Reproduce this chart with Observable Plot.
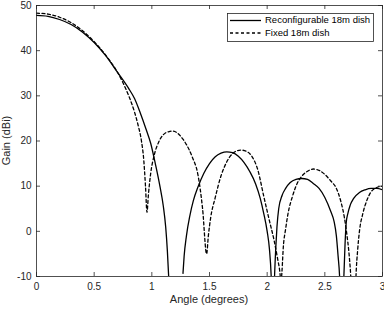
<!DOCTYPE html>
<html><head><meta charset="utf-8">
<script src="https://cdn.jsdelivr.net/npm/d3@7"></script>
<script src="https://cdn.jsdelivr.net/npm/@observablehq/plot@0.6"></script>
<style>html,body{margin:0;padding:0;background:#fff;} #chart svg{display:block;}</style>
</head><body><div id="chart"></div>
<script>
const seriesNames = ["Reconfigurable 18m dish", "Fixed 18m dish"];
const xLabel = "Angle (degrees)";
const yLabel = "Gain (dBi)";
const xTicks = [0, 0.5, 1, 1.5, 2, 2.5, 3];
const yTicks = [-10, 0, 10, 20, 30, 40, 50];

const reconfAngle = [0,0.1,0.2,0.3,0.4,0.5,0.6,0.7,0.8,0.85,0.9,0.95,0.99,1.03,1.07,1.1,1.12,1.135,1.145,1.16,
  1.2,
  1.27,1.28,1.3,1.33,1.36,1.4,1.45,1.5,1.55,1.6,1.65,1.7,1.75,1.8,1.85,1.9,1.94,1.97,2.0,2.02,2.035,2.045,2.05,2.055,2.064,2.075,2.085,2.1,2.13,2.16,2.2,2.25,2.3,2.35,2.4,2.45,2.5,2.55,2.58,2.6,2.615,2.628,2.64,2.648,2.655,2.665,2.675,2.685,2.7,2.72,2.75,2.8,2.85,2.9,2.95,3.0];
const reconfGain = [47.8,47.6,46.9,45.8,44.1,41.8,38.9,35.3,31.6,29.4,26.2,22.6,19.5,15,10,5.5,1,-4.5,-9.5,-18,
  null,
  -9.3,-5.5,-1,3.5,6.8,9.8,12.8,15,16.5,17.3,17.6,17.4,16.6,15.2,13.2,10.5,7.3,4,0,-4,-10,-18,-25,-18,-10,-3.5,1,5,8,9.5,10.8,11.5,11.7,11.5,10.6,9.5,7.5,4.5,2.2,-1,-5.5,-10,-20,-28,-20,-10,-3,1.8,4,5.8,7.3,8.6,9.2,9.5,9.5,9.2];

const fixedAngle = [0,0.1,0.2,0.3,0.4,0.5,0.6,0.7,0.75,0.8,0.85,0.88,0.91,0.93,0.945,0.958,0.97,0.99,1.02,1.06,1.1,1.15,1.18,1.22,1.27,1.3,1.35,1.4,1.44,1.475,1.49,1.51,1.55,1.6,1.65,1.7,1.77,1.82,1.87,1.92,1.97,2.02,2.06,2.09,2.11,2.12,2.128,2.14,2.16,2.18,2.22,2.26,2.3,2.35,2.4,2.45,2.5,2.55,2.6,2.64,2.67,2.69,2.71,2.725,2.74,2.75,2.76,2.77,2.785,2.8,2.83,2.87,2.9,2.95,3.0];
const fixedGain = [48.3,48.1,47.4,46.2,44.4,42.0,39.0,35.3,32.9,30.0,26.4,23.6,20,15.8,10,4.2,8,12.8,16.8,19.8,21.4,22.1,22.2,21.8,20.4,19.2,16.5,12.5,5,-5,-1,3,7.5,12.3,15.4,17.2,18,17.7,16.5,13.5,7.8,2.3,-2,-6,-9,-11.5,-9,-3.5,0.5,3.8,7.8,10.6,12.2,13.3,13.8,13.5,12.6,11.2,9.5,6.5,3,-0.5,-5,-10,-18,-22,-18,-10,-4,0,4,7.2,8.7,9.7,10.0];

const reconf = reconfAngle.map((a, i) => ({angle: a, gain: reconfGain[i], series: seriesNames[0]}));
const fixed = fixedAngle.map((a, i) => ({angle: a, gain: fixedGain[i], series: seriesNames[1]}));

const W = 384, H = 310, ML = 36, MR = 2, MT = 5, MB = 34;
const fw = W - ML - MR, fh = H - MT - MB, tick = 4;
const axisColor = "#262626";
const dash = "3,2.5";

const chart = Plot.plot({
  width: W, height: H,
  marginLeft: ML, marginRight: MR, marginTop: MT, marginBottom: MB,
  style: {fontFamily: "'Liberation Sans', Arial, Helvetica, sans-serif", fontSize: "10px", color: axisColor, background: "#fff"},
  x: {domain: [0, 3]},
  y: {domain: [-10, 50]},
  marks: [
    Plot.line(reconf, {x: "angle", y: "gain", stroke: "#000", strokeWidth: 1.3, curve: "monotone-x", clip: true}),
    Plot.line(fixed, {x: "angle", y: "gain", stroke: "#000", strokeWidth: 1.3, strokeDasharray: dash, curve: "monotone-x", clip: true}),
    Plot.ruleX(xTicks, {insetTop: fh - tick, stroke: axisColor, strokeWidth: 0.8}),
    Plot.ruleX(xTicks, {insetBottom: fh - tick, stroke: axisColor, strokeWidth: 0.8}),
    Plot.ruleY(yTicks, {insetRight: fw - tick, stroke: axisColor, strokeWidth: 0.8}),
    Plot.ruleY(yTicks, {insetLeft: fw - tick, stroke: axisColor, strokeWidth: 0.8}),
    Plot.frame({stroke: axisColor, strokeWidth: 0.8}),
    Plot.axisX(xTicks, {tickSize: 0, tickPadding: 6, tickFormat: d => String(d), label: null, fill: axisColor}),
    Plot.axisY(yTicks, {tickSize: 0, tickPadding: 5, tickFormat: d => String(d), label: null, fill: axisColor})
  ]
});

document.getElementById("chart").appendChild(chart);
const svg = d3.select(chart);
const font = "'Liberation Sans', Arial, Helvetica, sans-serif";

svg.append("text").attr("x", ML + fw / 2).attr("y", 300).attr("text-anchor", "middle")
  .attr("dominant-baseline", "middle").attr("font-family", font).attr("font-size", 11).attr("fill", axisColor).text(xLabel);
svg.append("text").attr("transform", `translate(7,${MT + fh / 2}) rotate(-90)`).attr("text-anchor", "middle")
  .attr("dominant-baseline", "middle").attr("font-family", font).attr("font-size", 11).attr("fill", axisColor).text(yLabel);

// legend
const lg = svg.append("g");
lg.append("rect").attr("x", 227.5).attr("y", 13.5).attr("width", 146).attr("height", 28)
  .attr("fill", "#fff").attr("stroke", axisColor).attr("stroke-width", 0.8);
const rows = [{name: seriesNames[0], dash: null}, {name: seriesNames[1], dash: dash}];
rows.forEach((r, i) => {
  const y = 20.5 + i * 12.5;
  const ln = lg.append("line").attr("x1", 230).attr("x2", 261).attr("y1", y).attr("y2", y)
    .attr("stroke", "#000").attr("stroke-width", 1.3);
  if (r.dash) ln.attr("stroke-dasharray", r.dash);
  lg.append("text").attr("x", 265).attr("y", y).attr("text-anchor", "start").attr("dominant-baseline", "middle")
    .attr("font-family", font).attr("font-size", 9.5).attr("fill", "#000").text(r.name);
});
</script>
</body></html>
